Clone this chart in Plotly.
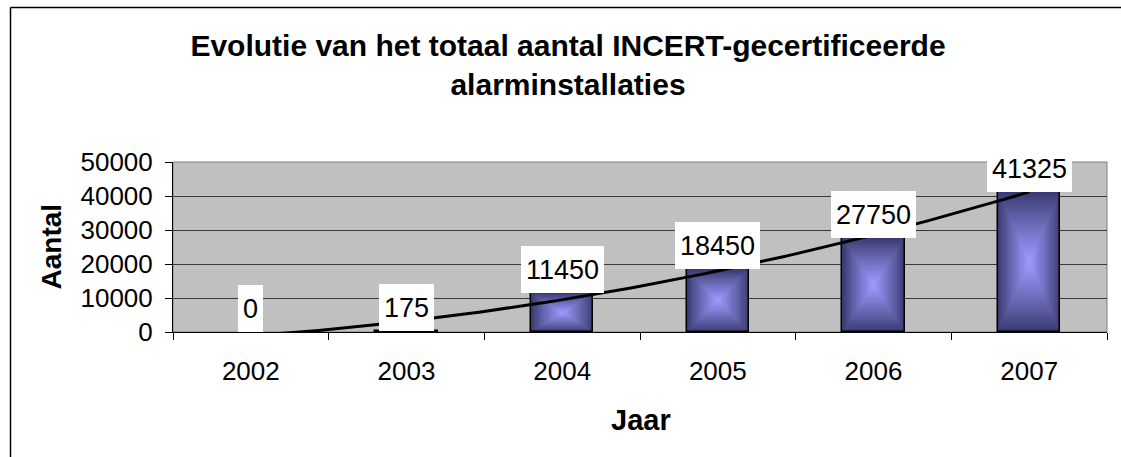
import numpy as np
import plotly.graph_objects as go

# ---- data ----
years = ["2002", "2003", "2004", "2005", "2006", "2007"]
aantal = [0, 175, 11450, 18450, 27750, 41325]
title_text = "Evolutie van het totaal aantal INCERT-gecertificeerde<br>alarminstallaties"
x_title = "Jaar"
y_title = "Aantal"

# ---- geometry / style ----
W, H = 1121, 457
ML, MR, MT, MB = 173, 14, 162, 125
PW, PH = W - ML - MR, H - MT - MB
FONT = "Arial, Liberation Sans, sans-serif"

def px_to_paper_x(px):
    return (px - ML) / PW

def px_to_paper_y(py):
    return (H - MB - py) / PH

xpos = np.arange(len(years))
vals = np.array(aantal, dtype=float)

fig = go.Figure()

# nested rectangles -> "from center" gradient fill
N = 28
edge = np.array([58, 58, 112])
center = np.array([155, 155, 255])
bar_w = 0.4
for k in range(N):
    f = k / N
    t = (k / (N - 1)) ** 0.9
    c = edge + (center - edge) * t
    fig.add_trace(go.Bar(
        x=xpos, y=vals * (1 - f), base=vals * f / 2,
        width=[bar_w * (1 - f)] * len(xpos),
        marker=dict(color="rgb(%d,%d,%d)" % tuple(c.astype(int)), line=dict(width=0)),
        showlegend=False, hoverinfo="skip"))
# outline
fig.add_trace(go.Bar(
    x=xpos, y=vals, width=[bar_w] * len(xpos),
    marker=dict(color="rgba(0,0,0,0)",
                line=dict(color="black", width=[1.5 if v > 0 else 0 for v in aantal])),
    showlegend=False, hoverinfo="skip"))

# polynomial (order 2) trendline
coef = np.polyfit(xpos, vals, 2)
xs = np.linspace(xpos[0], xpos[-1], 300)
fig.add_trace(go.Scatter(x=xs, y=np.polyval(coef, xs), mode="lines",
                         line=dict(color="black", width=3), showlegend=False,
                         hoverinfo="skip"))

annotations = []
for xi, v in zip(xpos, aantal):
    annotations.append(dict(
        x=xi, y=v, xref="x", yref="y", text=str(v), showarrow=False,
        yanchor="bottom", xanchor="center", bgcolor="white",
        borderpad=5, borderwidth=0, height=37,
        font=dict(family=FONT, size=27, color="black")))

annotations.append(dict(
    x=px_to_paper_x(50.5), y=0.5, xref="paper", yref="paper", text="<b>%s</b>" % y_title,
    textangle=-90, showarrow=False, xanchor="center", yanchor="middle",
    font=dict(family=FONT, size=28, color="black")))
annotations.append(dict(
    x=px_to_paper_x(641), y=px_to_paper_y(420), xref="paper", yref="paper",
    text="<b>%s</b>" % x_title, showarrow=False, xanchor="center", yanchor="middle",
    font=dict(family=FONT, size=29, color="black")))

shapes = [
    # plot area gray border
    dict(type="rect", xref="paper", yref="paper", x0=0, x1=1, y0=0, y1=1,
         line=dict(color="#808080", width=1), layer="below"),
    # chart border (left + top)
    dict(type="line", xref="paper", yref="paper",
         x0=px_to_paper_x(10.5), x1=px_to_paper_x(10.5),
         y0=px_to_paper_y(7.5), y1=px_to_paper_y(H + 5),
         line=dict(color="black", width=1.5)),
    dict(type="line", xref="paper", yref="paper",
         x0=px_to_paper_x(10.5), x1=px_to_paper_x(W + 5),
         y0=px_to_paper_y(7.5), y1=px_to_paper_y(7.5),
         line=dict(color="black", width=1.5)),
]

fig.update_layout(
    width=W, height=H,
    margin=dict(l=ML, r=MR, t=MT, b=MB, pad=0),
    paper_bgcolor="white", plot_bgcolor="#C0C0C0",
    barmode="overlay", bargap=0,
    title=dict(text="<b>%s</b>" % title_text, x=568 / W, xref="container", xanchor="center",
               y=1 - 56 / H, yref="container", yanchor="middle",
               font=dict(family=FONT, size=30, color="black")),
    font=dict(family=FONT, color="black"),
    annotations=annotations, shapes=shapes,
    xaxis=dict(range=[-0.5, len(years) - 0.5], tickmode="array", tickvals=xpos,
               ticktext=years, ticks="", showgrid=False, zeroline=False,
               showline=True, linecolor="black", linewidth=1,
               tickfont=dict(family=FONT, size=26, color="black"),
               ticklabelstandoff=16,
               minor=dict(tickmode="array", tickvals=list(np.arange(-0.5, len(years), 1.0)),
                          ticks="outside", ticklen=7, tickcolor="black", tickwidth=1,
                          showgrid=False)),
    yaxis=dict(range=[0, 50000], dtick=10000, tickformat="d",
               ticks="outside", ticklen=7, tickcolor="black", tickwidth=1,
               showgrid=True, gridcolor="#3a3a3a", gridwidth=1, zeroline=False,
               showline=True, linecolor="black", linewidth=1,
               tickfont=dict(family=FONT, size=26, color="black"),
               ticklabelstandoff=7),
)

fig.write_html("out.html", config={"displayModeBar": False},
               post_script="document.body.style.margin='0';")
